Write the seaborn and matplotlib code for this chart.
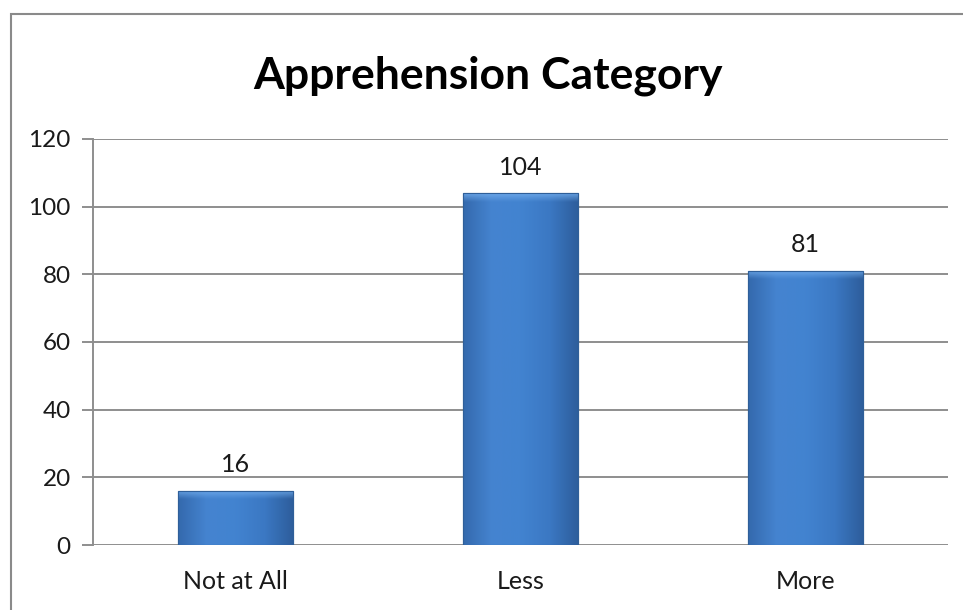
import numpy as np
import pandas as pd
import matplotlib
matplotlib.use("Agg")
import matplotlib.pyplot as plt
from matplotlib.patches import Rectangle
from matplotlib.colors import LinearSegmentedColormap
import seaborn as sns

categories = ["Not at All", "Less", "More"]
counts = [16, 104, 81]
yticks = [0, 20, 40, 60, 80, 100, 120]

sns.set_theme(style="white")
plt.rcParams['font.family'] = ['Lato', 'DejaVu Sans']

fig = plt.figure(figsize=(9.63, 6.10), dpi=100)
ax = fig.add_axes([93/963, 1-545/610, (948-93)/963, (545-139)/610])

df = pd.DataFrame({"cat": categories, "n": counts})
sns.barplot(data=df, x="cat", y="n", ax=ax, color="#3D7CC9", width=0.405,
            edgecolor="#2F5F99", linewidth=0.8, zorder=3)

ax.set_ylim(0, 120)
ax.set_yticks(yticks)
ax.set_xlim(-0.5, len(categories)-0.5)
ax.set_xlabel("")
ax.set_ylabel("")

# gridlines
for y in yticks:
    ax.axhline(y, color="#8E8E8E", lw=1.4, zorder=1)

for s in ["top", "right", "bottom"]:
    ax.spines[s].set_visible(False)
ax.spines["left"].set_color("#8E8E8E")
ax.spines["left"].set_linewidth(1.4)
ax.tick_params(axis="y", length=8, width=1.4, color="#8E8E8E", left=True,
               labelsize=17.5, pad=8, labelcolor="#1a1a1a")
ax.tick_params(axis="x", length=0, labelsize=18, pad=18, labelcolor="#1a1a1a")

# gradient shading for bars
cmap = LinearSegmentedColormap.from_list(
    "bar", ["#3469AD", "#4584D0", "#4283D0", "#3B78C3", "#2D5D9B"])
grad = np.linspace(0, 1, 256).reshape(1, -1)
vgrad = np.linspace(0, 1, 64).reshape(-1, 1)
vcmap = LinearSegmentedColormap.from_list(
    "top", [(0.45, 0.68, 0.93, 0.0), (0.45, 0.68, 0.93, 0.85)])
for p in ax.patches:
    x0, y0 = p.get_x(), p.get_y()
    w, h = p.get_width(), p.get_height()
    im = ax.imshow(grad, extent=[x0, x0+w, y0, y0+h], cmap=cmap,
                   aspect="auto", zorder=3.5, interpolation="bicubic")
    im.set_clip_path(p)
    # soft top bevel
    im2 = ax.imshow(vgrad, extent=[x0, x0+w, y0+h-2.5, y0+h], cmap=vcmap,
                    aspect="auto", zorder=3.6, interpolation="bicubic",
                    origin="lower")
    im2.set_clip_path(p)
    ax.add_patch(Rectangle((x0, y0), w, h, fill=False, edgecolor="#2F5F99",
                           lw=0.8, zorder=4))
ax.set_xlim(-0.5, len(categories)-0.5)
ax.set_ylim(0, 120)

for i, v in enumerate(counts):
    ax.text(i, v + 4.3, str(v), ha="center", va="bottom", fontsize=18,
            color="#1a1a1a")

fig.text(0.5065, 1-88/610, "Apprehension Category", ha="center",
         va="baseline", fontsize=32, fontweight="bold", color="black")

# outer chart border
fig.patches.append(Rectangle((11/963, -0.1), 1.2, 1-14/610+0.1,
                             transform=fig.transFigure, fill=False,
                             edgecolor="#8A8A8A", lw=1.5))

fig.savefig("out.png", dpi=100)
